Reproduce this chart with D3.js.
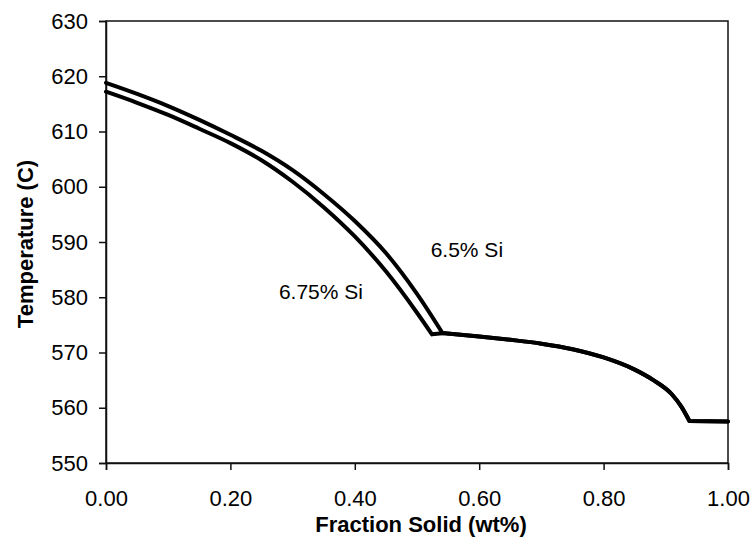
<!DOCTYPE html>
<html>
<head>
<meta charset="utf-8">
<script src="https://cdn.jsdelivr.net/npm/d3@7"></script>
<style>
  html, body { margin: 0; padding: 0; background: #fff; }
  svg { display: block; }
  text { font-family: "Liberation Sans", Arial, sans-serif; fill: #000; }
</style>
</head>
<body>
<svg id="chart" width="754" height="546"></svg>
<script>
// Cooling curves: temperature vs. fraction solid for two Si contents
const fraction65 = [0, 0.05, 0.10, 0.15, 0.20, 0.25, 0.30, 0.35, 0.40, 0.45, 0.50, 0.541,
                    0.60, 0.65, 0.70, 0.75, 0.80, 0.85, 0.88, 0.91, 0.925, 0.938, 1.0];
const temp65 =     [618.8, 616.8, 614.6, 612.1, 609.4, 606.5, 603.0, 598.7, 593.8, 588.0, 580.6, 573.5,
                    572.9, 572.3, 571.6, 570.6, 569.1, 566.9, 565.0, 562.4, 560.2, 557.6, 557.5];

const fraction675 = [0, 0.05, 0.10, 0.15, 0.20, 0.25, 0.30, 0.35, 0.40, 0.45, 0.50, 0.524,
                     0.541, 0.60, 0.65, 0.70, 0.75, 0.80, 0.85, 0.88, 0.91, 0.925, 0.938, 1.0];
const temp675 =     [617.2, 615.2, 613.0, 610.5, 607.9, 604.8, 600.9, 596.3, 591.0, 584.7, 577.2, 573.3,
                     573.5, 572.9, 572.3, 571.6, 570.6, 569.1, 566.9, 565.0, 562.4, 560.2, 557.6, 557.5];

// Fractions where the curve changes slope abruptly (eutectic arrests)
const kinks65 = [0.541, 0.938];
const kinks675 = [0.524, 0.541, 0.938];

const xTicks = [0, 0.2, 0.4, 0.6, 0.8, 1.0];
const yTicks = [550, 560, 570, 580, 590, 600, 610, 620, 630];

const seriesLabels = ["6.5% Si", "6.75% Si"];
const labelPos = [[0.522, 587.3], [0.278, 579.6]]; // [fraction, temperature] of label start

const svg = d3.select("#chart");
const plotLeft = 106, plotRight = 728, plotTop = 21, plotBottom = 463;

const x = d3.scaleLinear().domain([0, 1]).range([plotLeft, plotRight]);
const y = d3.scaleLinear().domain([550, 630]).range([plotBottom, plotTop]);

// Frame
svg.append("rect")
  .attr("x", plotLeft).attr("y", plotTop)
  .attr("width", plotRight - plotLeft).attr("height", plotBottom - plotTop)
  .attr("fill", "none").attr("stroke", "#111").attr("stroke-width", 1.5);

// Axes
const xAxis = svg.append("g")
  .attr("transform", `translate(0,${plotBottom})`)
  .call(d3.axisBottom(x).tickValues(xTicks).tickFormat(d3.format(".2f"))
        .tickSize(7).tickPadding(20));
const yAxis = svg.append("g")
  .attr("transform", `translate(${plotLeft},0)`)
  .call(d3.axisLeft(y).tickValues(yTicks).tickFormat(d3.format("d"))
        .tickSize(7).tickPadding(11));

[xAxis, yAxis].forEach(g => {
  g.select(".domain").attr("stroke", "#111").attr("stroke-width", 1.5);
  g.selectAll(".tick line").attr("stroke", "#111").attr("stroke-width", 1.5);
  g.selectAll(".tick text")
    .attr("font-family", "'Liberation Sans', Arial, sans-serif")
    .attr("font-size", 22).attr("fill", "#000");
});

// Axis titles
svg.append("text")
  .attr("x", (plotLeft + plotRight) / 2 + 4).attr("y", 532)
  .attr("text-anchor", "middle")
  .attr("font-size", 22).attr("font-weight", "bold")
  .text("Fraction Solid (wt%)");

svg.append("text")
  .attr("transform", `translate(33,${(plotTop + plotBottom) / 2 + 2}) rotate(-90)`)
  .attr("text-anchor", "middle")
  .attr("font-size", 22).attr("font-weight", "bold")
  .text("Temperature (C)");

// Curves: split at slope breaks, smooth within each piece
const line = d3.line().x(d => x(d[0])).y(d => y(d[1])).curve(d3.curveMonotoneX);

function pieces(fr, tp, kinks) {
  const pts = fr.map((f, i) => [f, tp[i]]);
  const out = [];
  let cur = [];
  pts.forEach(p => {
    cur.push(p);
    if (kinks.includes(p[0])) { out.push(cur); cur = [p]; }
  });
  if (cur.length > 1) out.push(cur);
  return out;
}

[[fraction65, temp65, kinks65], [fraction675, temp675, kinks675]].forEach(([fr, tp, k]) => {
  const d = pieces(fr, tp, k).map(seg => line(seg)).join("");
  svg.append("path")
    .attr("d", d)
    .attr("fill", "none")
    .attr("stroke", "#000")
    .attr("stroke-width", 4)
    .attr("stroke-linejoin", "round")
    .attr("stroke-linecap", "round");
});

// Series labels
seriesLabels.forEach((t, i) => {
  svg.append("text")
    .attr("x", x(labelPos[i][0])).attr("y", y(labelPos[i][1]))
    .attr("font-size", 21)
    .text(t);
});
</script>
</body>
</html>
